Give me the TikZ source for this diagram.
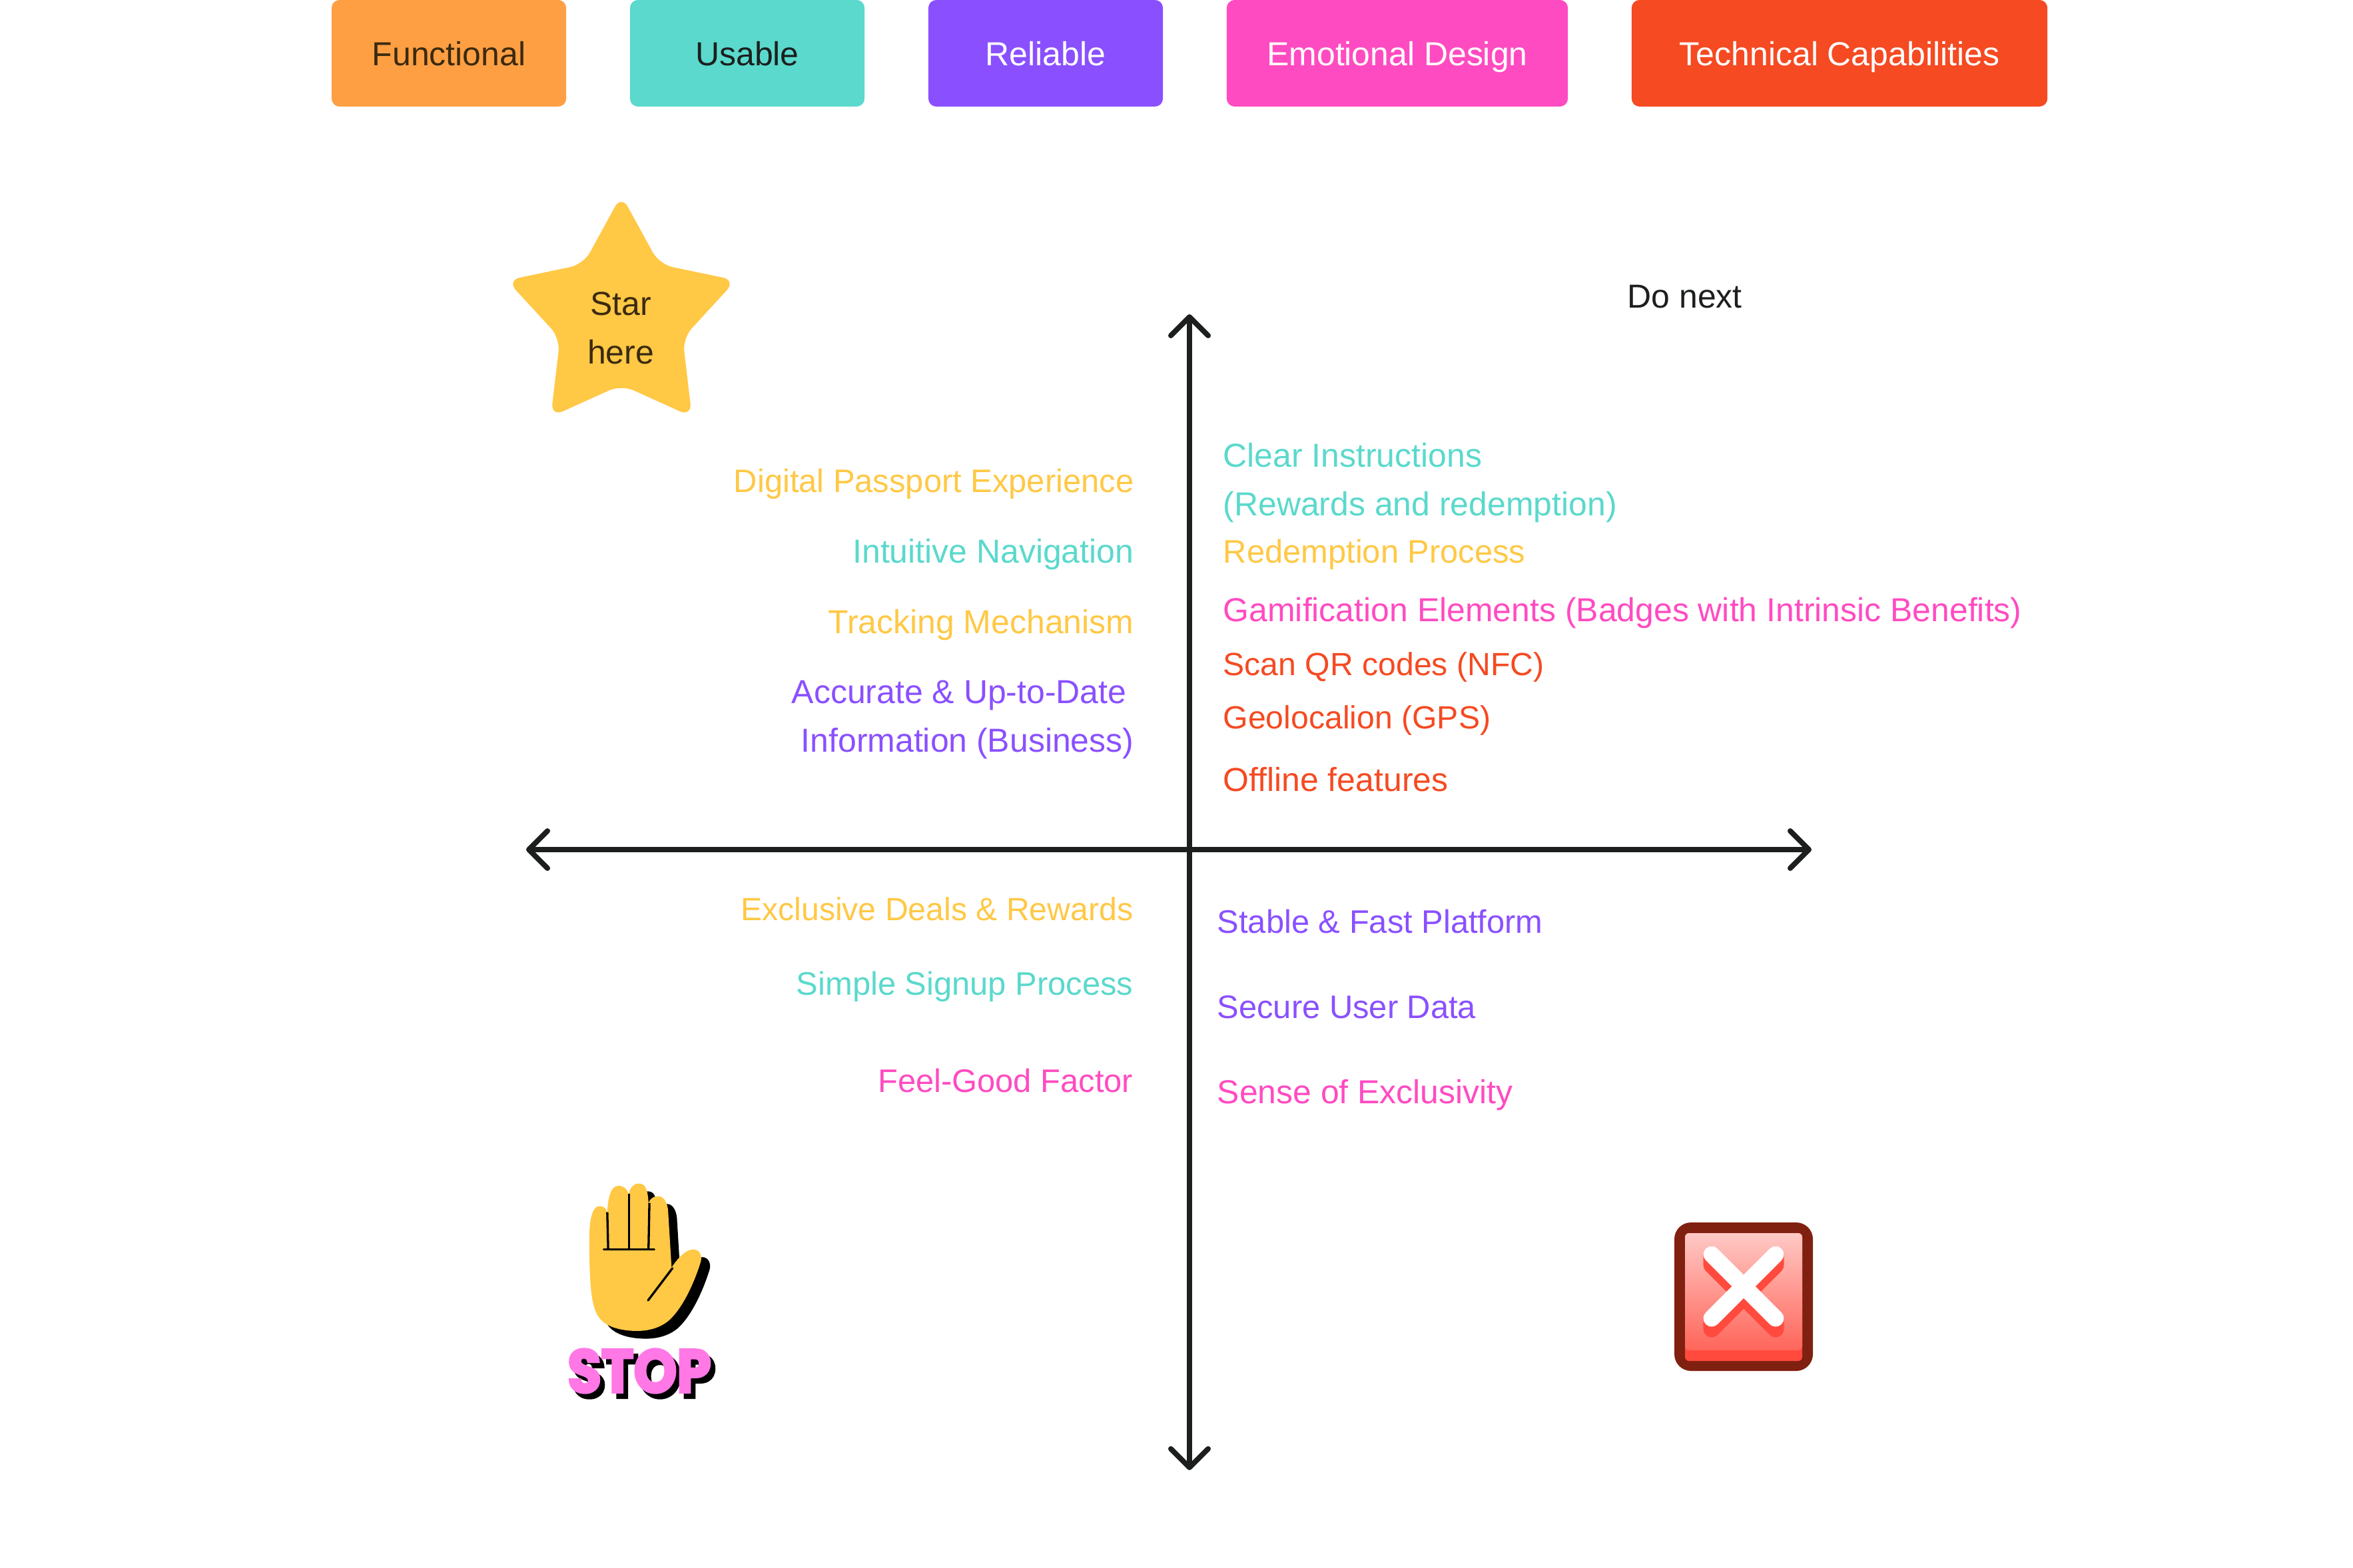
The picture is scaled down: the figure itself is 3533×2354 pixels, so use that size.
\documentclass[tikz,border=0pt]{standalone}
\usepackage{fontspec}
\usepackage{xcolor}
\usetikzlibrary{arrows.meta, positioning, calc}
\setmainfont{Liberation Sans}
\newfontfamily\stopfont[FakeBold=4, FakeStretch=0.9]{Poppins}
\definecolor{FuncOrange}{HTML}{FF9F43}
\definecolor{UsableTeal}{HTML}{5AD9CC}
\definecolor{ReliablePurple}{HTML}{8A50FF}
\definecolor{EmotionPink}{HTML}{FF4BC1}
\definecolor{TechRed}{HTML}{F54A22}
\definecolor{StarYellow}{HTML}{FFC845}
\definecolor{StopPink}{HTML}{FF78E6}
\definecolor{AxisBlack}{HTML}{1C1F1E}
\definecolor{DarkBrown}{HTML}{3A2A10}
\definecolor{CrossBorder}{HTML}{802010}
\definecolor{CrossRed}{HTML}{FF4A3D}
\tikzset{
    legend/.style={rounded corners=0.12cm, minimum height=1.6cm, inner sep=0pt,
        text height=0.36cm, text depth=0pt},
    leftitem/.style={anchor=base east, inner sep=0pt, align=right},
    rightitem/.style={anchor=base west, inner sep=0pt, align=left},
    snug/.style={font=\fontsize{13.9}{20.5}\selectfont},
    tight/.style={font=\fontsize{13.7}{20.5}\selectfont},
    stopword/.style={inner sep=0pt, font=\stopfont\bfseries\fontsize{26}{26}\selectfont},
    axis/.style={line width=0.08cm, AxisBlack, <->, >={Straight Barb[length=0.28cm, width=0.56cm, round]}}
}
\newcommand{\handoutline}{
    (255,330) .. controls (255,240) and (270,185) .. (300,185)
    .. controls (320,185) and (332,195) .. (336,215)
    .. controls (338,140) and (355,93) .. (385,93)
    .. controls (410,93) and (425,105) .. (432,130)
    .. controls (440,100) and (455,83) .. (478,83)
    .. controls (505,83) and (518,100) .. (522,170)
    .. controls (530,150) and (545,140) .. (565,140)
    .. controls (590,140) and (605,165) .. (610,200)
    -- (626,462)
    .. controls (660,410) and (695,380) .. (725,380)
    .. controls (750,380) and (765,405) .. (758,435)
    .. controls (735,510) and (690,620) .. (630,685)
    .. controls (590,730) and (530,748) .. (470,748)
    .. controls (410,748) and (340,735) .. (305,695)
    .. controls (265,650) and (255,560) .. (255,330) -- cycle
}
\begin{document}
\begin{tikzpicture}[x=0.01cm, y=-0.01cm, font=\fontsize{14.2}{20.5}\selectfont]
    \useasboundingbox (0,0) rectangle (3533,2354);

    % Legend
    \node (functional) [legend, fill=FuncOrange, text=DarkBrown, minimum width=3.52cm] at (674,80) {Functional};
    \node (usable) [legend, fill=UsableTeal, text=AxisBlack, minimum width=3.52cm] at (1122,80) {Usable};
    \node (reliable) [legend, fill=ReliablePurple, text=white, minimum width=3.52cm] at (1570,80) {Reliable};
    \node (emotional) [legend, fill=EmotionPink, text=white, minimum width=5.12cm] at (2098,80) {Emotional Design};
    \node (technical) [legend, fill=TechRed, text=white, minimum width=6.24cm] at (2762,80) {Technical Capabilities};

    % Axes
    \coordinate (top) at (1786,472);
    \coordinate (bottom) at (1786,2208);
    \coordinate (left) at (790,1276);
    \coordinate (right) at (2720,1276);
    \draw[axis] (left) -- (right);
    \draw[axis] (bottom) -- (top);

    % Star
    \fill[StarYellow, rounded corners=0.2cm] (933,293) -- (990,397) -- (1105,421) -- (1025,508)
        -- (1039,626) -- (933,578) -- (827,626) -- (841,508) -- (761,421) -- (876,397) -- cycle;
    \node (star) [anchor=base, inner sep=0pt, align=center, text=DarkBrown] at (932,546) {Star\\here};
    \node (next) [anchor=base west, inner sep=0pt, text=AxisBlack] at (2443,462) {Do next};

    % Top left
    \node (passport) [leftitem, snug, text=StarYellow] at (1703,739) {Digital Passport Experience};
    \node (navigation) [leftitem, text=UsableTeal] at (1703,845) {Intuitive Navigation};
    \node (tracking) [leftitem, text=StarYellow] at (1703,951) {Tracking Mechanism};
    \node (accurate) [leftitem, text=ReliablePurple] at (1703,1129) {Accurate \& Up-to-Date\hspace*{0.11cm}\\Information (Business)};

    % Top right
    \node (clear) [rightitem, text=UsableTeal] at (1836,774) {Clear Instructions\\(Rewards and redemption)};
    \node (redemption) [rightitem, snug, text=StarYellow] at (1836,845) {Redemption Process};
    \node (gamification) [rightitem, text=EmotionPink] at (1836,933) {Gamification Elements (Badges with Intrinsic Benefits)};
    \node (scan) [rightitem, tight, text=TechRed] at (1836,1014) {Scan QR codes (NFC)};
    \node (geo) [rightitem, tight, text=TechRed] at (1836,1094) {Geolocalion (GPS)};
    \node (offline) [rightitem, text=TechRed] at (1836,1188) {Offline features};

    % Bottom left
    \node (deals) [leftitem, tight, text=StarYellow] at (1702,1382) {Exclusive Deals \& Rewards};
    \node (signup) [leftitem, snug, text=UsableTeal] at (1702,1494) {Simple Signup Process};
    \node (feelgood) [leftitem, snug, text=EmotionPink] at (1702,1640) {Feel-Good Factor};

    % Bottom right
    \node (platform) [rightitem, snug, text=ReliablePurple] at (1827,1401) {Stable \& Fast Platform};
    \node (secure) [rightitem, snug, text=ReliablePurple] at (1827,1529) {Secure User Data};
    \node (exclusivity) [rightitem, text=EmotionPink] at (1827,1657) {Sense of Exclusivity};

    % Hand
    \begin{scope}[shift={(800,1750)}, x=0.00333cm, y=-0.00333cm]
        \fill[black, shift={(40,35)}] \handoutline;
        \fill[StarYellow] \handoutline;
        \draw[black, line width=0.033cm, line cap=round] (320,380) -- (548,380);
        \draw[black, line width=0.033cm] (336,212) -- (340,380);
        \draw[black, line width=0.033cm] (435,130) -- (435,380);
        \draw[black, line width=0.033cm] (526,170) -- (522,380);
        \draw[black, line width=0.033cm, line cap=round] (630,465) -- (520,610);
    \end{scope}
    \node (stopshadow) [stopword, text=black] at (967,2067) {STOP};
    \node (stop) [stopword, text=StopPink] at (960,2059) {STOP};

    % Cross
    \fill[CrossBorder, rounded corners=0.25cm] (2514,1836) rectangle (2722,2059);
    \fill[CrossRed, rounded corners=0.06cm] (2530,1852) rectangle (2706,2044);
    \shade[top color=CrossRed!30!white, bottom color=CrossRed!85!white, rounded corners=0.06cm] (2530,1852) rectangle (2706,2028);
    \foreach \dy in {0,2,...,16} {
        \draw[CrossRed, line width=0.25cm, line cap=round] (2570,1884+\dy) -- (2666,1980+\dy);
        \draw[CrossRed, line width=0.25cm, line cap=round] (2666,1884+\dy) -- (2570,1980+\dy);
    }
    \draw[white, line width=0.25cm, line cap=round] (2570,1884) -- (2666,1980);
    \draw[white, line width=0.25cm, line cap=round] (2666,1884) -- (2570,1980);
\end{tikzpicture}
\end{document}
